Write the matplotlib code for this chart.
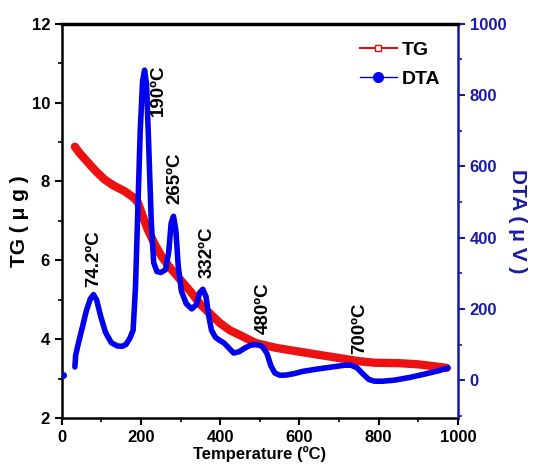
import numpy as np
import matplotlib.pyplot as plt
from matplotlib.lines import Line2D
from matplotlib.ticker import MultipleLocator

plt.rcParams['font.family'] = ['Liberation Sans', 'DejaVu Sans']
plt.rcParams['font.weight'] = 'bold'

# TG curve (temperature in C, mass in ug)
T_tg = [33, 45, 60, 75, 90, 108, 130, 159, 180, 192, 205, 217, 235, 252, 270, 293, 310, 328,
        350, 379, 400, 425, 450, 490, 540, 600, 650, 700, 750, 790, 850, 900, 940, 972]
TG = [8.88, 8.72, 8.55, 8.38, 8.22, 8.05, 7.9, 7.75, 7.6, 7.47, 7.1, 6.78, 6.4, 6.1, 5.85, 5.58,
      5.38, 5.17, 4.88, 4.6, 4.4, 4.22, 4.1, 3.9, 3.78, 3.68, 3.6, 3.52, 3.44, 3.4, 3.39, 3.36,
      3.31, 3.27]

# DTA curve (temperature in C, signal in uV)
T_dta = [33, 35, 40, 50, 62, 72, 80, 88, 98, 110, 125, 140, 152, 162, 172, 180, 186, 192, 198,
         204, 209, 214, 220, 226, 232, 240, 250, 262, 270, 276, 282, 288, 294, 302, 314, 328,
         340, 348, 356, 364, 371, 378, 388, 398, 410, 422, 434, 448, 462, 476, 492, 506, 518,
         528, 538, 550, 565, 585, 610, 650, 690, 715, 730, 745, 760, 775, 790, 810, 840, 880,
         920, 950, 975]
DTA = [37, 70, 95, 140, 195, 228, 240, 225, 180, 135, 105, 96, 95, 100, 118, 140, 260, 480, 700,
       840, 870, 830, 640, 440, 330, 305, 302, 310, 360, 440, 460, 420, 320, 250, 215, 200, 212,
       245, 255, 235, 180, 140, 120, 112, 104, 90, 76, 80, 90, 98, 100, 95, 75, 40, 20, 14, 14,
       18, 25, 32, 38, 42, 42, 35, 18, 2, -3, -3, 0, 8, 18, 26, 34]
# lone first DTA point
T_dta0 = [2]
DTA0 = [14]

peak_labels = ['74.2ºC', '190ºC', '265ºC', '332ºC', '480ºC', '700ºC']
label_T = [80, 245, 285, 366, 508, 752]
label_TG = [6.04, 10.32, 8.09, 6.21, 4.79, 4.28]

blue = '#0000ee'
dark_blue = '#1a1aa6'

fig = plt.figure(figsize=(5.47, 4.76), dpi=100)
ax = fig.add_axes([0.113, 0.122, 0.724, 0.828])
ax2 = ax.twinx()

ax.plot(T_tg, TG, color='#ee1111', lw=6, solid_capstyle='round')
ax2.plot(T_dta, DTA, color=blue, lw=4, solid_capstyle='round')
ax2.plot(T_dta0, DTA0, 'o', color=blue, ms=4)

ax.set_xlim(0, 1000)
ax.set_ylim(2, 12)
ax2.set_ylim(-106, 1000)

ax.xaxis.set_major_locator(MultipleLocator(200))
ax.xaxis.set_minor_locator(MultipleLocator(100))
ax.yaxis.set_major_locator(MultipleLocator(2))
ax.yaxis.set_minor_locator(MultipleLocator(1))
ax2.yaxis.set_major_locator(MultipleLocator(200))
ax2.yaxis.set_minor_locator(MultipleLocator(100))

for s in ['left', 'bottom', 'top']:
    ax.spines[s].set_linewidth(1.8)
ax2.spines['top'].set_linewidth(2.5)
ax2.spines['right'].set_color(dark_blue)
ax2.spines['right'].set_linewidth(1.8)
ax2.spines['left'].set_visible(False)

ax.tick_params(axis='both', which='major', direction='out', length=5, width=1.5, labelsize=12)
ax.tick_params(axis='both', which='minor', direction='out', length=3, width=1.2)
ax2.tick_params(axis='y', which='major', direction='out', length=5, width=1.5, labelsize=12,
                colors=dark_blue)
ax2.tick_params(axis='y', which='minor', direction='out', length=3, width=1.2, colors=dark_blue)

ax.set_xlabel('Temperature (ºC)', fontsize=12, fontweight='bold', labelpad=1)
ax.set_ylabel('TG ( μ g )', fontsize=15, fontweight='bold', labelpad=2)
ax2.set_ylabel('DTA ( μ V )', fontsize=15, fontweight='bold', color=dark_blue, rotation=270,
               labelpad=15)

# peak labels drawn above both curves
for txt, x, y in zip(peak_labels, label_T, label_TG):
    ax2.text(x, y, txt, transform=ax.transData, rotation=90, ha='center', va='center',
             fontsize=13.5, fontweight='bold', zorder=10)

handles = [Line2D([], [], color='#dd1111', lw=1.5, marker='s', ms=4, mfc='white', mec='#dd1111'),
           Line2D([], [], color=blue, lw=1, marker='o', ms=7)]
leg = ax2.legend(handles, ['TG', 'DTA'], loc='upper right', frameon=False, fontsize=14,
                 handlelength=1.9, handletextpad=0.25, borderaxespad=0.5, labelspacing=0.6)
for t in leg.get_texts():
    t.set_fontweight('bold')

fig.savefig('out.png', dpi=100)
